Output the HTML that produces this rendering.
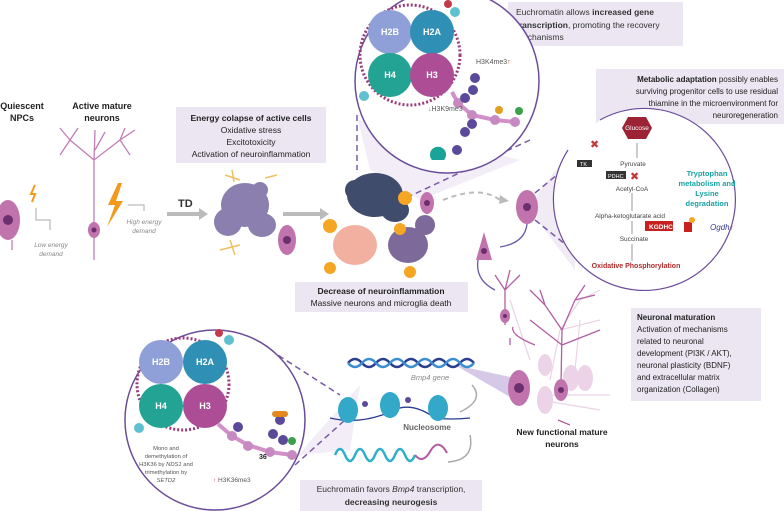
<!DOCTYPE html>
<html><head><meta charset="utf-8"><style>
html,body{margin:0;padding:0;background:#fff;}
svg{display:block;font-family:"Liberation Sans",sans-serif;}
</style></head><body>
<svg width="784" height="511" viewBox="0 0 784 511" xmlns="http://www.w3.org/2000/svg">
<rect width="784" height="511" fill="#fff"/>
<!-- zoom cones -->
<polygon points="358,120 370,170 420,200 520,160" fill="#ece6f3" opacity="0.7"/>
<polygon points="537,195 575,145 575,270 537,220" fill="#ece6f3" opacity="0.8"/>
<polygon points="298,455 360,385 350,450" fill="#ece6f3" opacity="0.7"/>
<polygon points="455,365 515,378 515,400" fill="#d6c9e8"/>
<g stroke="#7a5aa8" stroke-width="1.5" stroke-dasharray="6,4" fill="none">
<line x1="357" y1="115" x2="357" y2="170"/>
<line x1="530" y1="140" x2="410" y2="196"/>
<line x1="535" y1="193" x2="575" y2="160"/>
<line x1="535" y1="220" x2="585" y2="260"/>
<line x1="270" y1="350" x2="340" y2="395"/>
<line x1="295" y1="465" x2="345" y2="420"/>
</g>
<!-- top box -->
<rect x="508" y="2" width="175" height="44" fill="#ebe6f1"/>
<text font-size="8.5" fill="#333"><tspan x="516" y="15">Euchromatin allows <tspan font-weight="bold">increased gene</tspan></tspan><tspan x="516" y="28" font-weight="bold">transcription<tspan font-weight="normal">, promoting the recovery</tspan></tspan><tspan x="516" y="40">mechanisms</tspan></text>
<!-- top circle -->
<circle cx="447" cy="81" r="92" fill="#fff" stroke="#6b4c9a" stroke-width="1.5"/>
<circle cx="410" cy="55" r="50" fill="none" stroke="#9b3b7a" stroke-width="3" stroke-dasharray="2,2"/>
<circle cx="390" cy="32" r="22" fill="#8fa0d8"/>
<circle cx="432" cy="32" r="22" fill="#2f8fb4"/>
<circle cx="390" cy="75" r="22" fill="#23a393"/>
<circle cx="432" cy="75" r="22" fill="#ad4d96"/>
<g font-size="9" font-weight="bold" fill="#fff" text-anchor="middle">
<text x="390" y="35">H2B</text><text x="432" y="35">H2A</text><text x="390" y="78">H4</text><text x="432" y="78">H3</text></g>
<polyline points="452,92 458,103 472,115 495,120 515,122" stroke="#d28fc8" stroke-width="4" fill="none"/>
<g fill="#c68ac0"><circle cx="458" cy="103" r="5"/><circle cx="472" cy="115" r="5"/><circle cx="495" cy="120" r="5"/><circle cx="515" cy="122" r="5"/></g>
<g fill="#5b4a9a"><circle cx="475" cy="78" r="5"/><circle cx="473" cy="90" r="5"/><circle cx="465" cy="98" r="5"/><circle cx="472" cy="124" r="5"/><circle cx="465" cy="132" r="5"/><circle cx="457" cy="150" r="5"/></g>
<circle cx="499" cy="110" r="4" fill="#e2a020"/><circle cx="519" cy="111" r="4" fill="#3aa04a"/>
<circle cx="448" cy="4" r="4" fill="#c23b4b"/><circle cx="455" cy="12" r="5" fill="#5fc0d0"/><circle cx="364" cy="96" r="5" fill="#5fc0d0"/>
<text x="476" y="64" font-size="7" fill="#555">H3K4me3<tspan fill="#d33">↑</tspan></text>
<text x="428" y="111" font-size="7" fill="#555"><tspan fill="#3a3">↓</tspan>H3K9me3</text>
<path d="M432,160 a8,8 0 1,1 12,0" fill="#1aa399"/>
<!-- left side -->
<text font-size="9" font-weight="bold" fill="#222" text-anchor="middle"><tspan x="22" y="109">Quiescent</tspan><tspan x="22" y="121">NPCs</tspan><tspan x="102" y="109">Active mature</tspan><tspan x="102" y="121">neurons</tspan></text>
<g stroke="#c27db5" stroke-width="1.3" fill="none">
<path d="M94,225 L94,160 M94,160 L70,140 M94,160 L120,140 M70,140 L60,128 M70,140 L78,128 M120,140 L135,130 M120,140 L125,128 M94,160 L95,130 M95,150 L105,132 M60,155 L70,140 M130,155 L120,140 M94,238 L94,260"/>
<path d="M12,240 L12,250"/>
</g>
<ellipse cx="8" cy="220" rx="12" ry="20" fill="#c173ad"/><circle cx="8" cy="220" r="5" fill="#6b2f6d"/>
<ellipse cx="94" cy="230" rx="6" ry="8" fill="#c173ad"/><circle cx="94" cy="230" r="2.5" fill="#6b2f6d"/>
<path d="M35,185 l-4,9 h4 l-3,8" stroke="#f19a1d" stroke-width="2" fill="none"/>
<path d="M118,183 l-10,22 h7 l-8,22 l16,-26 h-7 l6,-18z" fill="#f19a1d"/>
<path d="M36,208 V220 H50 V230 M128,205 H144 V211" stroke="#aaa" fill="none"/>
<text font-size="6.5" font-style="italic" fill="#888" text-anchor="middle"><tspan x="51" y="247">Low energy</tspan><tspan x="51" y="256">demand</tspan><tspan x="144" y="224">High energy</tspan><tspan x="144" y="233">demand</tspan></text>
<!-- energy box -->
<rect x="176" y="107" width="150" height="56" fill="#ebe6f1"/>
<text font-size="8.5" fill="#222" text-anchor="middle"><tspan x="251" y="121" font-weight="bold">Energy colapse of active cells</tspan><tspan x="251" y="133">Oxidative stress</tspan><tspan x="251" y="145">Excitotoxicity</tspan><tspan x="251" y="157">Activation of neuroinflammation</tspan></text>
<text x="178" y="207" font-size="11" font-weight="bold" fill="#333">TD</text>
<path d="M167,214 H200" stroke="#bbb" stroke-width="4"/><path d="M199,208 l9,6 l-9,6z" fill="#bbb"/>
<g fill="#8a7fae"><ellipse cx="245" cy="205" rx="24" ry="22"/><ellipse cx="228" cy="222" rx="14" ry="14"/><ellipse cx="262" cy="225" rx="14" ry="12"/><ellipse cx="260" cy="190" rx="8" ry="8"/></g>
<g stroke="#f0c060" stroke-width="1.5"><path d="M225,175 l15,5 M232,170 l2,12 M265,178 l12,-3 M220,250 l20,-5 M230,240 l5,15"/></g>
<ellipse cx="287" cy="240" rx="9" ry="15" fill="#c173ad"/><circle cx="287" cy="240" r="4" fill="#6b2f6d"/>
<path d="M283,214 H322" stroke="#bbb" stroke-width="4"/><path d="M320,208 l9,6 l-9,6z" fill="#bbb"/>
<g fill="#3f4c6b"><ellipse cx="375" cy="195" rx="28" ry="22"/><ellipse cx="355" cy="190" rx="10" ry="10"/><ellipse cx="395" cy="210" rx="14" ry="12"/></g>
<g fill="#f2b0a0"><ellipse cx="355" cy="245" rx="22" ry="20"/></g>
<g fill="#7d6a9a"><ellipse cx="408" cy="245" rx="20" ry="18"/><ellipse cx="425" cy="225" rx="10" ry="10"/></g>
<g fill="#f5a623"><circle cx="405" cy="198" r="7"/><circle cx="330" cy="226" r="7"/><circle cx="400" cy="229" r="6"/><circle cx="410" cy="272" r="6"/><circle cx="330" cy="268" r="6"/><circle cx="330" cy="298" r="6"/></g>
<ellipse cx="427" cy="203" rx="7" ry="11" fill="#c173ad"/><circle cx="427" cy="203" r="3" fill="#6b2f6d"/>
<!-- decrease box -->
<rect x="295" y="282" width="173" height="30" fill="#ebe6f1"/>
<text font-size="8.5" fill="#222" text-anchor="middle"><tspan x="381" y="294" font-weight="bold">Decrease of neuroinflammation</tspan><tspan x="381" y="306">Massive neurons and microglia death</tspan></text>
<path d="M443,200 Q480,185 500,200" stroke="#bbb" stroke-width="2" stroke-dasharray="5,4" fill="none"/>
<path d="M500,195 l9,6 l-10,3z" fill="#bbb"/>
<ellipse cx="527" cy="207" rx="11" ry="17" fill="#c173ad"/><circle cx="527" cy="207" r="4" fill="#6b2f6d"/>
<path d="M527,224 Q525,243 500,247 M478,260 Q475,280 495,290" stroke="#6b5aa8" stroke-width="1.3" fill="none"/>
<polygon points="476,260 484,232 492,260" fill="#c173ad"/><circle cx="484" cy="251" r="3" fill="#6b2f6d"/>
<!-- metabolic box -->
<rect x="596" y="69" width="188" height="55" fill="#ebe6f1"/>
<text font-size="8" fill="#222" text-anchor="end"><tspan x="778" y="82"><tspan font-weight="bold">Metabolic adaptation</tspan> possibly enables</tspan><tspan x="778" y="94">surviving progenitor cells to use residual</tspan><tspan x="778" y="106">thiamine in the microenvironment for</tspan><tspan x="778" y="118">neuroregeneration</tspan></text>
<path d="M568,150 A91,91 0 1,0 600,120" fill="#fff" stroke="#6b4c9a" stroke-width="1.2"/>
<polygon points="628,117 646,117 652,128 646,139 628,139 622,128" fill="#9b2335"/>
<text x="637" y="130" font-size="6.5" fill="#fff" text-anchor="middle">Glucose</text>
<text font-size="6.5" fill="#444" text-anchor="middle"><tspan x="633" y="166">Pyruvate</tspan><tspan x="632" y="191">Acetyl-CoA</tspan><tspan x="630" y="218">Alpha-ketoglutarate acid</tspan><tspan x="634" y="241">Succinate</tspan></text>
<text x="636" y="268" font-size="7" font-weight="bold" fill="#b02a2a" text-anchor="middle">Oxidative Phosphorylation</text>
<g stroke="#999" stroke-width="1"><line x1="637" y1="143" x2="637" y2="158"/><line x1="632" y1="193" x2="632" y2="211"/><line x1="632" y1="221" x2="632" y2="234"/><line x1="632" y1="244" x2="632" y2="261"/></g>
<text x="590" y="148" font-size="11" fill="#c23b3b">✖</text>
<text x="630" y="180" font-size="11" fill="#c23b3b">✖</text>
<rect x="577" y="160" width="15" height="7" fill="#333"/><text x="580" y="166" font-size="5.5" fill="#fff">TK</text>
<rect x="606" y="171" width="20" height="8" fill="#333"/><text x="608" y="178" font-size="5.5" fill="#fff">PDHC</text>
<rect x="645" y="221" width="28" height="10" fill="#c8201f"/><text x="649" y="229" font-size="6.5" font-weight="bold" fill="#fff">KGDHC</text>
<rect x="684" y="222" width="8" height="10" fill="#c8201f"/><circle cx="692" cy="220" r="3" fill="#f5a623"/>
<text font-size="7.5" font-weight="bold" fill="#1aa3a3" text-anchor="middle"><tspan x="707" y="176">Tryptophan</tspan><tspan x="707" y="186">metabolism and</tspan><tspan x="707" y="196">Lysine</tspan><tspan x="707" y="206">degradation</tspan></text>
<text x="710" y="230" font-size="8" font-style="italic" fill="#3b3b8f">Ogdh<tspan fill="#d33" font-style="normal">↑</tspan></text>
<!-- neuronal maturation -->
<rect x="631" y="308" width="130" height="93" fill="#ebe6f1"/>
<text font-size="8" fill="#222"><tspan x="637" y="320" font-weight="bold">Neuronal maturation</tspan><tspan x="637" y="332">Activation of mechanisms</tspan><tspan x="637" y="344">related to neuronal</tspan><tspan x="637" y="356">development (PI3K / AKT),</tspan><tspan x="637" y="368">neuronal plasticity (BDNF)</tspan><tspan x="637" y="380">and extracellular matrix</tspan><tspan x="637" y="392">organization (Collagen)</tspan></text>
<!-- mature neurons -->
<g stroke="#ead3e6" stroke-width="1.2" fill="none"><path d="M530,360 L520,330 L510,300 M550,380 L560,330 L580,300 M580,300 L600,290 M560,330 L600,320 M575,370 L580,320 M540,400 L600,410 M545,395 L610,395"/></g>
<g stroke="#b25ea3" stroke-width="1.3" fill="none"><path d="M561,385 L562,330 L545,305 L530,290 M562,330 L575,300 L585,285 M545,305 L540,290 M575,300 L595,295 M562,345 L530,320 M562,345 L600,330 M558,420 L570,425 M505,325 L505,290 L495,275 M505,290 L520,275 M505,290 L510,270 M510,338 L510,345 M513,327 Q510,335 535,345"/></g>
<g fill="#ecd3e8"><ellipse cx="545" cy="400" rx="8" ry="14"/><ellipse cx="571" cy="378" rx="8" ry="13"/><ellipse cx="585" cy="378" rx="8" ry="13"/><ellipse cx="545" cy="365" rx="7" ry="11"/></g>
<ellipse cx="561" cy="390" rx="7" ry="11" fill="#c173ad"/><circle cx="561" cy="390" r="3" fill="#6b2f6d"/>
<ellipse cx="519" cy="388" rx="11" ry="18" fill="#c173ad"/><circle cx="519" cy="388" r="5" fill="#6b2f6d"/>
<ellipse cx="505" cy="316" rx="5" ry="7" fill="#c173ad"/><circle cx="505" cy="316" r="2" fill="#6b2f6d"/>
<text font-size="8.5" font-weight="bold" fill="#222" text-anchor="middle"><tspan x="562" y="435">New functional mature</tspan><tspan x="562" y="447">neurons</tspan></text>
<!-- bottom circle -->
<circle cx="215" cy="420" r="90" fill="#fff" stroke="#6b4c9a" stroke-width="1.5"/>
<circle cx="183" cy="384" r="46" fill="none" stroke="#9b3b7a" stroke-width="3" stroke-dasharray="2,2"/>
<circle cx="161" cy="362" r="22" fill="#8fa0d8"/>
<circle cx="205" cy="362" r="22" fill="#2f8fb4"/>
<circle cx="161" cy="406" r="22" fill="#23a393"/>
<circle cx="205" cy="406" r="22" fill="#ad4d96"/>
<g font-size="9" font-weight="bold" fill="#fff" text-anchor="middle">
<text x="161" y="365">H2B</text><text x="205" y="365">H2A</text><text x="161" y="409">H4</text><text x="205" y="409">H3</text></g>
<polyline points="218,424 232,436 248,445 270,452 292,455" stroke="#d28fc8" stroke-width="4" fill="none"/>
<g fill="#c68ac0"><circle cx="232" cy="436" r="5"/><circle cx="248" cy="446" r="5"/><circle cx="270" cy="452" r="5"/><circle cx="292" cy="455" r="5"/></g>
<g fill="#5b4a9a"><circle cx="238" cy="427" r="5"/><circle cx="280" cy="420" r="5"/><circle cx="273" cy="434" r="5"/><circle cx="283" cy="440" r="5"/></g>
<rect x="272" y="411" width="16" height="6" rx="3" fill="#e2881d"/>
<circle cx="292" cy="441" r="4" fill="#3aa04a"/>
<circle cx="219" cy="333" r="4" fill="#c23b4b"/><circle cx="229" cy="340" r="5" fill="#5fc0d0"/><circle cx="139" cy="428" r="5" fill="#5fc0d0"/>
<text x="259" y="459" font-size="7" font-weight="bold" fill="#222">36</text>
<text font-size="5.8" fill="#555" text-anchor="middle"><tspan x="166" y="450">Mono and</tspan><tspan x="166" y="458">demethylation of</tspan><tspan x="166" y="466">H3K36 by <tspan font-style="italic">NDS1</tspan> and</tspan><tspan x="166" y="474">trimethylation by</tspan><tspan x="166" y="482" font-style="italic">SETD2</tspan></text>
<text x="213" y="482" font-size="6.5" fill="#555"><tspan fill="#d33">↑</tspan> H3K36me3</text>
<!-- DNA / nucleosome -->
<path d="M348,363 q7,-8 14,0 t14,0 t14,0 t14,0 t14,0 t14,0 t14,0 t14,0 t14,0" stroke="#2a3d8f" stroke-width="2.5" fill="none"/>
<path d="M348,363 q7,8 14,0 t14,0 t14,0 t14,0 t14,0 t14,0 t14,0 t14,0 t14,0" stroke="#3a8fd0" stroke-width="2.5" fill="none"/>
<text x="430" y="380" font-size="7.5" font-style="italic" fill="#888" text-anchor="middle">Bmp4 gene</text>
<path d="M330,418 Q360,425 390,412 Q410,400 435,418 Q450,420 470,418" stroke="#2a3d8f" stroke-width="1.3" fill="none"/>
<g fill="#33a8c8"><ellipse cx="348" cy="410" rx="10" ry="13"/><ellipse cx="390" cy="405" rx="10" ry="13"/><ellipse cx="438" cy="408" rx="10" ry="13"/></g>
<g fill="#5b4a9a"><circle cx="365" cy="404" r="3"/><circle cx="408" cy="400" r="3"/></g>
<path d="M472,385 Q485,400 460,412 M470,435 Q475,460 448,462" stroke="#aaa" stroke-width="1.5" fill="none"/>
<text x="427" y="430" font-size="8" font-weight="bold" fill="#666" text-anchor="middle">Nucleosome</text>
<path d="M335,455 q5,-12 10,0 t10,0 t10,0 t10,0 t10,0 t10,0 t10,0 t10,0" stroke="#2fb0c8" stroke-width="2.5" fill="none"/>
<path d="M415,455 q8,10 16,-5 q8,-12 16,3" stroke="#b05ca5" stroke-width="2" fill="none"/>
<rect x="300" y="480" width="182" height="31" fill="#ebe6f1"/>
<text font-size="8.5" fill="#333" text-anchor="middle"><tspan x="391" y="492">Euchromatin favors <tspan font-style="italic">Bmp4</tspan> transcription,</tspan><tspan x="391" y="505" font-weight="bold">decreasing neurogesis</tspan></text>
</svg>
</body></html>
